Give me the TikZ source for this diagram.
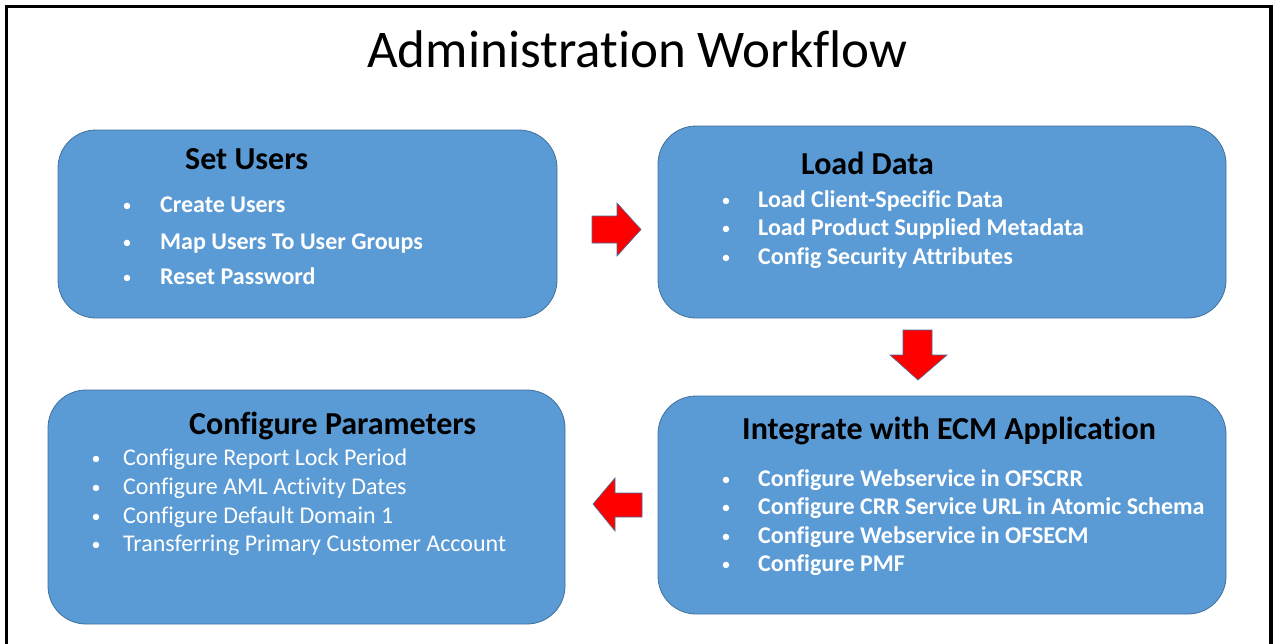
\documentclass[tikz,border=0pt]{standalone}
\usepackage{fontspec}
\setmainfont{Carlito}[Ligatures=NoCommon]
\definecolor{boxfill}{HTML}{5B9BD5}
\definecolor{boxline}{HTML}{41719C}
\begin{document}
\begin{tikzpicture}[x=1pt,y=-1pt,
  panel/.style={draw=boxline,line width=0.8pt,fill=boxfill,rounded corners=38pt,inner sep=0pt},
  head/.style={anchor=base west,inner sep=0pt,font=\fontsize{32}{36}\selectfont\bfseries,text=black},
  item/.style={anchor=base west,inner sep=0pt,font=\fontsize{24}{28}\selectfont\bfseries,text=white},
  itemreg/.style={anchor=base west,inner sep=0pt,font=\fontsize{24}{28}\selectfont,text=white},
  dot/.style={anchor=base,inner sep=0pt,font=\fontsize{18}{26}\selectfont,text=white},
  redarrow/.style={draw=boxline,line width=0.6pt,fill=red,line join=miter}]
\useasboundingbox (0,0) rectangle (1274,643);
\fill[white] (0,0) rectangle (1274,643);
% frame
\draw[line width=3.5pt,line cap=butt] (6.5,650) -- (6.5,6.5) -- (1271,6.5) -- (1271,650);
% title
\node[anchor=base west,inner sep=0pt,font=\fontsize{53}{60}\selectfont] (title) at (367,67) {Administration Workflow};
% panels
\node[panel,minimum width=499pt,minimum height=188pt] (users) at (307.5,224) {};
\node[panel,minimum width=568pt,minimum height=192pt] (load) at (942,222) {};
\node[panel,minimum width=517pt,minimum height=234pt] (params) at (306.5,507) {};
\node[panel,minimum width=568pt,minimum height=218pt] (ecm) at (942,505) {};
% Set Users
\node[head] (h1) at (185,169) {Set Users};
\node[dot] (d11) at (127,211) {•}; \node[item] (t11) at (160,212) {Create Users};
\node[dot] (d12) at (127,248) {•}; \node[item] (t12) at (160,249) {Map Users To User Groups};
\node[dot] (d13) at (127,283) {•}; \node[item] (t13) at (160,284) {Reset Password};
% Load Data
\node[head] (h2) at (801,174) {Load Data};
\node[dot] (d21) at (726,206) {•}; \node[item] (t21) at (758,207) {Load Client-Specific Data};
\node[dot] (d22) at (726,234) {•}; \node[item] (t22) at (758,235) {Load Product Supplied Metadata};
\node[dot] (d23) at (726,263) {•}; \node[item] (t23) at (758,264) {Config Security Attributes};
% Configure Parameters
\node[head] (h3) at (189,434) {Configure Parameters};
\node[dot] (d31) at (96,464) {•}; \node[itemreg] (t31) at (123,465) {Configure Report Lock Period};
\node[dot] (d32) at (96,493) {•}; \node[itemreg] (t32) at (123,494) {Configure AML Activity Dates};
\node[dot] (d33) at (96,522) {•}; \node[itemreg] (t33) at (123,523) {Configure Default Domain 1};
\node[dot] (d34) at (96,550) {•}; \node[itemreg] (t34) at (123,551) {Transferring Primary Customer Account};
% Integrate
\node[head] (h4) at (742,439) {Integrate with ECM Application};
\node[dot] (d41) at (726,485) {•}; \node[item] (t41) at (758,486) {Configure Webservice in OFSCRR};
\node[dot] (d42) at (726,513) {•}; \node[item] (t42) at (758,514) {Configure CRR Service URL in Atomic Schema};
\node[dot] (d43) at (726,542) {•}; \node[item] (t43) at (758,543) {Configure Webservice in OFSECM};
\node[dot] (d44) at (726,570) {•}; \node[item] (t44) at (758,571) {Configure PMF};
% arrows
\draw[redarrow] (592,216) -- (617,216) -- (617,203) -- (641,229.5) -- (617,256) -- (617,243) -- (592,243) -- cycle;
\draw[redarrow] (903,330) -- (932,330) -- (932,355) -- (947,355) -- (918,380) -- (890,355) -- (903,355) -- cycle;
\draw[redarrow] (642,493) -- (615,493) -- (615,478) -- (593,504) -- (615,531) -- (615,517) -- (642,517) -- cycle;
\end{tikzpicture}
\end{document}
